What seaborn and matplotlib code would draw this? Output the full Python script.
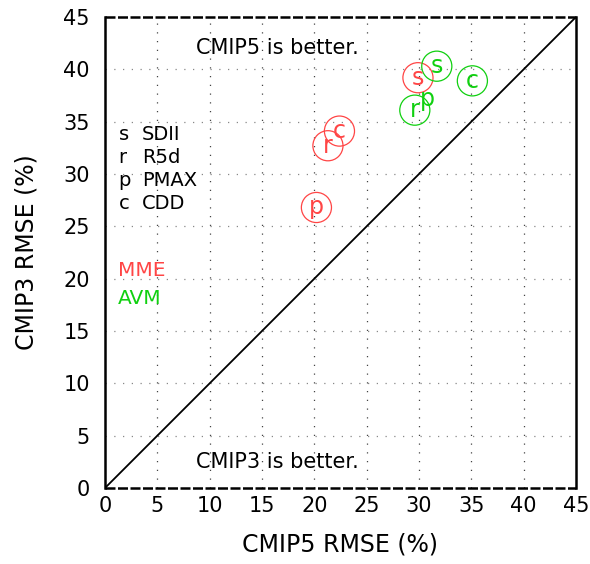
import matplotlib
matplotlib.use("Agg")
import matplotlib.pyplot as plt
import seaborn as sns
import pandas as pd
import numpy as np

# Data
indices = ["s", "r", "p", "c"]
index_names = ["SDII", "R5d", "PMAX", "CDD"]
mme_cmip5 = [29.9, 21.3, 20.2, 22.4]
mme_cmip3 = [39.2, 32.7, 26.8, 34.1]
avm_cmip5 = [31.7, 29.6, 30.8, 35.1]
avm_cmip3 = [40.3, 36.1, 37.2, 38.9]
groups = ["MME", "AVM"]
ticks = [0, 5, 10, 15, 20, 25, 30, 35, 40, 45]

red = "#ff4545"
green = "#10d010"
palette = {"MME": red, "AVM": green}

df = pd.DataFrame({
    "idx": indices * 2,
    "cmip5": mme_cmip5 + avm_cmip5,
    "cmip3": mme_cmip3 + avm_cmip3,
    "group": ["MME"] * 4 + ["AVM"] * 4,
})

sns.set_style("white")
plt.rcParams["font.family"] = ["DejaVu Sans"]
plt.rcParams["text.color"] = "black"
plt.rcParams["axes.labelcolor"] = "black"
plt.rcParams["xtick.color"] = "black"
plt.rcParams["ytick.color"] = "black"

fig = plt.figure(figsize=(5.9, 5.64), dpi=100)
ax = fig.add_axes([105 / 590, 1 - 488 / 564, 471 / 590, 471 / 564])

# grid
for t in ticks[1:-1]:
    ax.axvline(t, color="#444444", lw=0.9, ls=(0, (1, 6)), zorder=0)
    ax.axhline(t, color="#888888", lw=0.9, ls=(0, (1, 6)), zorder=0)

# diagonal
ax.plot([0, 45], [0, 45], color="black", lw=1.3, zorder=1)

# circles (green p has no circle in reference)
circ = df[~((df.group == "AVM") & (df.idx == "p"))]
sns.scatterplot(data=circ, x="cmip5", y="cmip3", hue="group", palette=palette,
                s=470, marker="o", legend=False, ax=ax, zorder=3)
coll = ax.collections[-1]
fc = coll.get_facecolors()
coll.set_edgecolors(fc)
coll.set_facecolors("none")
coll.set_linewidth(0.9)

for _, row in df.iterrows():
    ax.text(row.cmip5, row.cmip3, row.idx, color=palette[row.group],
            fontsize=17, ha="center", va="center", zorder=4)

ax.set_xlim(0, 45)
ax.set_ylim(0, 45)
ax.set_xticks(ticks)
ax.set_yticks(ticks)
ax.tick_params(axis="x", which="major", direction="inout", length=9, width=1.5,
               labelsize=15, top=False, pad=1)
ax.tick_params(axis="y", which="major", direction="out", length=6, width=1.5,
               labelsize=15, right=False, pad=5)
for name, sp in ax.spines.items():
    sp.set_linewidth(1.8)
    sp.set_color("black")
for name in ("top", "bottom"):
    ax.spines[name].set_linestyle((0, (4, 1)))
    ax.spines[name].set_capstyle("butt")

ax.set_xlabel("CMIP5 RMSE (%)", fontsize=17, labelpad=12)
ax.set_ylabel("CMIP3 RMSE (%)", fontsize=17, labelpad=18)

ax.text(16.5, 42.0, "CMIP5 is better.", fontsize=15, ha="center", va="center")
ax.text(16.5, 2.5, "CMIP3 is better.", fontsize=15, ha="center", va="center")

for i, (k, name) in enumerate(zip(indices, index_names)):
    y = 33.8 - i * 2.2
    ax.text(1.3, y, k, fontsize=14, ha="left", va="center")
    ax.text(3.5, y, name, fontsize=14, ha="left", va="center")

ax.text(1.2, 20.8, groups[0], color=red, fontsize=14.5, ha="left", va="center")
ax.text(1.2, 18.1, groups[1], color=green, fontsize=14.5, ha="left", va="center")

fig.savefig("out.png", dpi=100)
